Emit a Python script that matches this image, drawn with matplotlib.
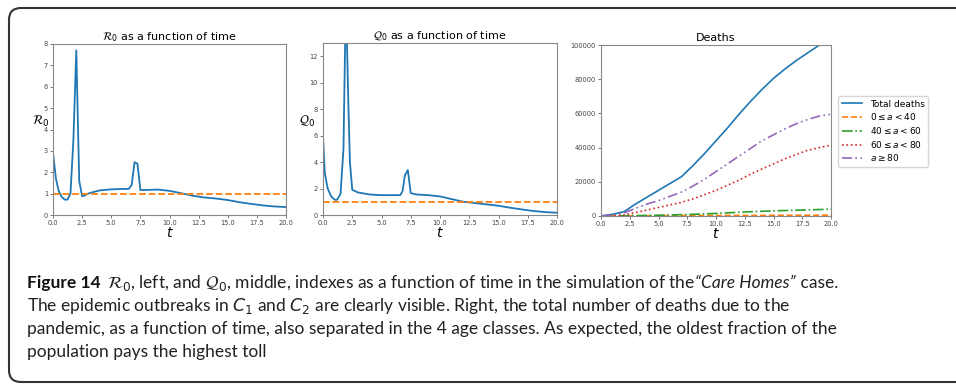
import numpy as np
import matplotlib.pyplot as plt
from matplotlib.patches import FancyBboxPatch
from matplotlib.transforms import IdentityTransform

# R0 index over time
r0_t = [0, 0.25, 0.5, 0.75, 1.0, 1.25, 1.5, 1.75, 2.0, 2.25, 2.5, 2.75, 3.0, 3.5, 4.0,
        5.0, 6.0, 6.5, 6.75, 7.0, 7.25, 7.5, 8.0, 9.0, 10.0, 11.0, 12.0, 13.0, 14.0,
        15.0, 16.0, 17.0, 18.0, 19.0, 20.0]
r0_v = [2.9, 1.7, 1.1, 0.85, 0.72, 0.72, 1.0, 3.5, 7.7, 1.6, 0.88, 0.92, 1.0, 1.08, 1.15,
        1.2, 1.22, 1.22, 1.4, 2.47, 2.4, 1.17, 1.17, 1.19, 1.13, 1.02, 0.9, 0.82, 0.77,
        0.7, 0.6, 0.52, 0.45, 0.4, 0.37]

# Q0 index over time
q0_t = [0, 0.15, 0.4, 0.7, 1.0, 1.2, 1.5, 1.75, 1.9, 2.0, 2.15, 2.3, 2.5, 3.0, 4.0, 5.0,
        6.0, 6.6, 6.8, 7.0, 7.25, 7.5, 8.0, 9.0, 10.0, 11.0, 12.0, 13.0, 14.0, 15.0,
        16.0, 17.0, 18.0, 19.0, 20.0]
q0_v = [6.0, 3.2, 2.0, 1.4, 1.15, 1.15, 1.6, 5.0, 13.5, 15.0, 9.0, 4.0, 1.9, 1.7, 1.55,
        1.5, 1.5, 1.5, 1.8, 3.0, 3.4, 1.65, 1.55, 1.5, 1.4, 1.2, 1.0, 0.9, 0.8, 0.7,
        0.55, 0.42, 0.3, 0.22, 0.17]

# deaths over time
d_t = list(range(0, 21))
d_total = [0, 1000, 2500, 7000, 11000, 15000, 19000, 23000, 29500, 36500, 44000, 51500,
           59500, 67000, 74000, 80500, 86000, 91000, 95500, 100000, 104000]
d_0_40 = [0, 30, 60, 90, 120, 150, 180, 210, 240, 270, 300, 320, 340, 360, 380, 400,
          420, 440, 460, 480, 500]
d_40_60 = [0, 50, 120, 250, 350, 450, 600, 800, 1000, 1250, 1500, 1850, 2200, 2500,
           2750, 3000, 3200, 3400, 3600, 3800, 4000]
d_60_80 = [0, 300, 600, 2000, 3500, 5000, 6500, 8000, 10000, 12500, 15000, 18000, 21000,
           24500, 27500, 30500, 33500, 36000, 38500, 40000, 41500]
d_80 = [0, 700, 1800, 4500, 7000, 9000, 11500, 14000, 17500, 21500, 26000, 30500, 35000,
        39500, 44000, 47500, 51000, 54000, 56500, 58500, 59500]

caption = [
    'The epidemic outbreaks in $C_1$ and $C_2$ are clearly visible. Right, '
    'the total number of deaths due to the',
    'pandemic, as a function of time, also separated in the 4 age classes. '
    'As expected, the oldest fraction of the',
    'population pays the highest toll',
]

xticks = np.arange(0, 20.1, 2.5)
W, H = 956, 384

fig = plt.figure(figsize=(W / 100, H / 100), dpi=100)

# frame around the figure (pixel coords)
fig.patches.append(FancyBboxPatch((9, 2), 1200, 374,
                                  boxstyle='round,pad=0,rounding_size=12',
                                  transform=IdentityTransform(), fill=False,
                                  edgecolor='#333333', linewidth=1.5))


def style_axes(ax):
    for s in ax.spines.values():
        s.set_color('#888888')
    ax.tick_params(labelsize=4.8, colors='#444444', length=2, width=0.5, pad=1.5)
    ax.set_xlim(0, 20)
    ax.set_xticks(xticks)
    ax.set_xlabel('$t$', fontsize=10, labelpad=0)


ax1 = fig.add_axes([53 / W, 1 - 215 / H, 233 / W, 171 / H])
ax1.plot(r0_t, r0_v, color='#1f77b4', lw=1.3)
ax1.axhline(1, color='#ff7f0e', ls='--', lw=1.3)
ax1.set_ylim(0, 8)
style_axes(ax1)
ax1.set_title(r'$\mathcal{R}_0$ as a function of time', fontsize=8, pad=3)
ax1.set_ylabel(r'$\mathcal{R}_0$', fontsize=9, rotation=0, labelpad=2)

ax2 = fig.add_axes([323 / W, 1 - 215 / H, 234 / W, 172 / H])
ax2.plot(q0_t, q0_v, color='#1f77b4', lw=1.3)
ax2.axhline(1, color='#ff7f0e', ls='--', lw=1.3)
ax2.set_ylim(0, 13)
ax2.set_yticks([0, 2, 4, 6, 8, 10, 12])
style_axes(ax2)
ax2.set_title(r'$\mathcal{Q}_0$ as a function of time', fontsize=8, pad=3)
ax2.set_ylabel(r'$\mathcal{Q}_0$', fontsize=9, rotation=0, labelpad=2)

ax3 = fig.add_axes([601 / W, 1 - 216 / H, 230 / W, 171 / H])
ax3.plot(d_t, d_total, color='#1f77b4', lw=1.2, label='Total deaths')
ax3.plot(d_t, d_0_40, color='#ff7f0e', ls='--', lw=1.2, label=r'$0 \leq a < 40$')
ax3.plot(d_t, d_40_60, color='#2ca02c', ls='-.', lw=1.2, label=r'$40 \leq a < 60$')
ax3.plot(d_t, d_60_80, color='#d62728', ls=':', lw=1.2, label=r'$60 \leq a < 80$')
ax3.plot(d_t, d_80, color='#9467bd', lw=1.2, dashes=(6, 2, 1, 2, 1, 2), label=r'$a \geq 80$')
ax3.set_ylim(0, 100000)
style_axes(ax3)
ax3.set_title('Deaths', fontsize=8, pad=3)
ax3.legend(loc='upper left', bbox_to_anchor=(838 / W, 1 - 96 / H),
           bbox_transform=fig.transFigure, fontsize=6.5, handlelength=2.3,
           borderaxespad=0, labelspacing=0.3)

# caption
cap_font = ['Lato', 'DejaVu Sans']
renderer = fig.canvas.get_renderer()

# size the caption so line 3 ends where the reference's does
probe = fig.text(0, 0, caption[1], fontsize=12, family=cap_font)
cap_size = 12 * 809 / probe.get_window_extent(renderer).width
probe.remove()


def put_run(x, y, s, **kw):
    kw.setdefault('color', '#222222')
    t = fig.text(x / W, 1 - y / H, s, fontsize=cap_size, family=cap_font,
                 va='baseline', ha='left', **kw)
    return x + t.get_window_extent(renderer).width


x = put_run(27, 288, 'Figure 14', weight='bold', color='#111111')
x = put_run(x + 6, 288, r'$\mathcal{R}_0$, left, and $\mathcal{Q}_0$, middle, indexes as a '
            'function of time in the simulation of the ')
x = put_run(x, 288, '\u201cCare Homes\u201d', style='italic')
put_run(x, 288, ' case.')
for i, line in enumerate(caption):
    put_run(27, 311 + 23 * i, line)

fig.savefig('out.png', dpi=100)
